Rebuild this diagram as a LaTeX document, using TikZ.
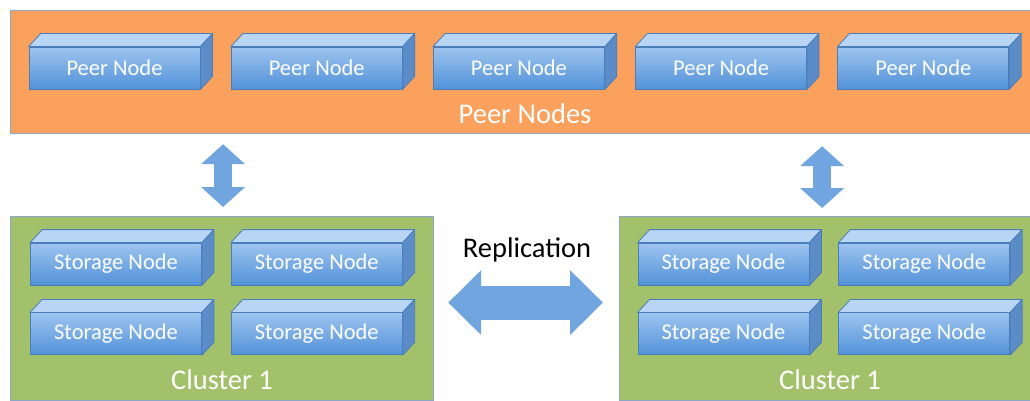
\documentclass[tikz,border=0pt]{standalone}
\usepackage{fontspec}
\setmainfont{Carlito}
\usepackage{tikz}
\usetikzlibrary{arrows.meta,positioning}

\definecolor{peerorange}{RGB}{249,161,93}
\definecolor{clustergreen}{RGB}{163,192,106}
\definecolor{paneledge}{RGB}{140,166,198}
\definecolor{boxedge}{RGB}{74,126,187}
\definecolor{boxlight}{RGB}{157,196,239}
\definecolor{boxdark}{RGB}{82,146,217}
\definecolor{boxlid}{RGB}{185,213,245}
\definecolor{boxside}{RGB}{92,140,199}
\definecolor{arrowblue}{RGB}{112,165,224}

% lid and right side of a box node
\newcommand{\boxfaces}[1]{%
  \filldraw[boxface, fill=boxlid] (#1.north west) -- ++(12pt,13pt)
    -- ([shift={(12pt,13pt)}]#1.north east) -- (#1.north east) -- cycle;
  \filldraw[boxface, fill=boxside] (#1.north east) -- ++(12pt,13pt)
    -- ([shift={(12pt,13pt)}]#1.south east) -- (#1.south east) -- cycle;}

\begin{document}
\begin{tikzpicture}[x=1pt,y=-1pt]
\tikzstyle{panel}=[draw=paneledge, line width=1.2pt, anchor=north west, inner sep=0pt]
\tikzstyle{box}=[draw=boxedge, line width=0.8pt, top color=boxlight, bottom color=boxdark,
  minimum width=171pt, minimum height=42pt, inner sep=0pt, text=white,
  font=\fontsize{22.5}{26}\selectfont]
\tikzstyle{boxface}=[draw=boxedge, line width=0.8pt, line join=round]
\tikzstyle{paneltext}=[text=white, font=\fontsize{28.5}{33}\selectfont]
\tikzstyle{fatarrow}=[line width=18pt, arrowblue,
  {Triangle[width=43pt,length=20pt]}-{Triangle[width=43pt,length=20pt]}]
\tikzstyle{replarrow}=[line width=34pt, arrowblue,
  {Triangle[width=63pt,length=33pt]}-{Triangle[width=63pt,length=33pt]}]

\useasboundingbox (0,0) rectangle (1030,401);

% panels
\node[panel, fill=peerorange, minimum width=1026pt, minimum height=123pt] (peers) at (10,10) {};
\node[panel, fill=clustergreen, minimum width=423pt, minimum height=184pt] (clusterL) at (10,216) {};
\node[panel, fill=clustergreen, minimum width=413pt, minimum height=184pt] (clusterR) at (619,216) {};

% peer nodes
\foreach \i in {1,...,5}
  \node[box] (peer\i) at ({114.5+202.2*(\i-1)},68) {Peer Node};

% storage nodes
\node[box] (sL1) at (116,264) {Storage Node};
\node[box, right=29pt of sL1] (sL2) {Storage Node};
\node[box, below=27pt of sL1] (sL3) {Storage Node};
\node[box, below=27pt of sL2] (sL4) {Storage Node};

\node[box] (sR1) at (723.5,264) {Storage Node};
\node[box, right=29pt of sR1] (sR2) {Storage Node};
\node[box, below=27pt of sR1] (sR3) {Storage Node};
\node[box, below=27pt of sR2] (sR4) {Storage Node};

\foreach \n in {peer1,peer2,peer3,peer4,peer5,sL1,sL2,sL3,sL4,sR1,sR2,sR3,sR4}
  {\boxfaces{\n}}

% labels
\node[paneltext] (peerlabel) at (525,114) {Peer Nodes};
\node[paneltext] (labelL) at (222,380) {Cluster 1};
\node[paneltext] (labelR) at (830,380) {Cluster 1};
\node[font=\fontsize{28.5}{33}\selectfont] (repl) at (527,250) {Replication};

% arrows
\coordinate (dropL) at ([xshift=1pt]clusterL.north);
\coordinate (dropR) at ([xshift=-4pt]clusterR.north);
\draw[fatarrow, shorten <=10pt, shorten >=9pt] (peers.south -| dropL) -- (dropL);
\draw[fatarrow, shorten <=12pt, shorten >=8pt] (peers.south -| dropR) -- (dropR);
\draw[replarrow, shorten <=14pt, shorten >=16pt] ([yshift=6pt]clusterL.east) -- ([yshift=6pt]clusterR.west);
\end{tikzpicture}
\end{document}
